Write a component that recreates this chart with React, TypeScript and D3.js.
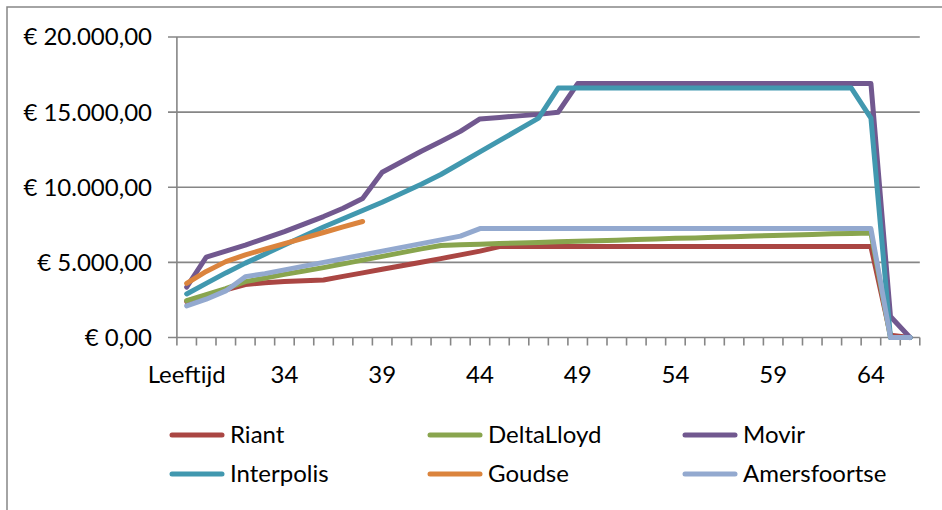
import React from "react";
import * as d3 from "d3";

const categories: string[] = ["Leeftijd", ...d3.range(30, 67).map(String)];
const tickLabels: string[] = ["Leeftijd", "34", "39", "44", "49", "54", "59", "64"];
const yTicks: number[] = [0, 5000, 10000, 15000, 20000];

const riant: (number | null)[] = [
  2400, 2780, 3170, 3520, 3650, 3720, 3780, 3830, 4070, 4300, 4540, 4780, 5010, 5250, 5500, 5750,
  6050, 6050, 6050, 6050, 6050, 6050, 6050, 6050, 6050, 6050, 6050, 6050, 6050, 6050, 6050, 6050, 6050, 6050, 6050, 6050,
  150, 0,
];
const deltaLloyd: (number | null)[] = [
  2450, 2850, 3250, 3720, 3950, 4200, 4420, 4650, 4900, 5150, 5400, 5650, 5900, 6120, 6170, 6210,
  6250, 6290, 6330, 6370, 6400, 6440, 6480, 6520, 6560, 6600, 6630, 6670, 6710, 6750, 6790, 6830, 6860, 6900, 6930, 6950,
  0, 0,
];
const movir: (number | null)[] = [
  3350, 5350, 5750, 6150, 6600, 7050, 7550, 8050, 8600, 9250, 11000, 11700, 12400, 13050, 13720, 14550,
  14650, 14750, 14850, 14990, 16900, 16900, 16900, 16900, 16900, 16900, 16900, 16900, 16900, 16900, 16900, 16900, 16900, 16900, 16900, 16900,
  1400, 0,
];
const interpolis: (number | null)[] = [
  2900, 3600, 4300, 4950, 5550, 6150, 6750, 7350, 7900, 8450, 9000, 9600, 10200, 10850, 11600, 12350,
  13100, 13850, 14600, 16600, 16600, 16600, 16600, 16600, 16600, 16600, 16600, 16600, 16600, 16600, 16600, 16600, 16600, 16600, 16600, 14600,
  0, 0,
];
const goudse: (number | null)[] = [
  3600, 4400, 5050, 5500, 5880, 6250, 6620, 6990, 7360, 7720,
  null, null, null, null, null, null, null, null, null, null, null, null, null, null, null, null, null, null, null, null, null, null, null, null, null, null, null, null,
];
const amersfoortse: (number | null)[] = [
  2100, 2550, 3100, 4050, 4250, 4500, 4750, 5000, 5250, 5500, 5750, 6000, 6250, 6500, 6750, 7250,
  7250, 7250, 7250, 7250, 7250, 7250, 7250, 7250, 7250, 7250, 7250, 7250, 7250, 7250, 7250, 7250, 7250, 7250, 7250, 7250,
  0, 0,
];

const seriesNames = ["Riant", "DeltaLloyd", "Movir", "Interpolis", "Goudse", "Amersfoortse"];
const seriesValues = [riant, deltaLloyd, movir, interpolis, goudse, amersfoortse];
const colors = ["#AA4643", "#89A54E", "#71588F", "#4198AF", "#DB843D", "#93A9CF"];

const W = 942;
const H = 510;
const FONT = "Lato, 'Open Sans', sans-serif";

function fmtEuro(v: number): string {
  const s = Math.round(v).toString().replace(/\B(?=(\d{3})+(?!\d))/g, ".");
  return `€ ${s},00`;
}

export default function App() {
  const x = d3.scaleBand<string>().domain(categories).range([176.9, 919.8]).padding(0);
  const cx = (c: string) => (x(c) as number) + x.bandwidth() / 2;
  const y = d3.scaleLinear().domain([0, 20000]).range([337.5, 37]);
  const axisColor = "#868686";

  const line = d3
    .line<number | null>()
    .defined((d) => d !== null)
    .x((_, i) => cx(categories[i]))
    .y((d) => y(d as number));

  const boundaries = [...categories.map((c) => x(c) as number), 919.8];

  const legendCols = [172, 430, 685];
  const legendRows = [435, 474];

  return (
    <svg
      width={W}
      height={H}
      style={{ position: "absolute", left: 0, top: 0, background: "#fff" }}
      fontFamily={FONT}
    >
      <rect x={0} y={0} width={W} height={H} fill="#fff" />
      <rect x={7} y={7} width={W + 20} height={H + 20} fill="none" stroke={axisColor} strokeWidth={1.5} />

      {/* gridlines */}
      {yTicks.map((t) => (
        <line key={"g" + t} x1={168} x2={919.8} y1={y(t)} y2={y(t)} stroke={axisColor} strokeWidth={1.6} />
      ))}
      {/* y axis */}
      <line x1={176.9} x2={176.9} y1={y(20000)} y2={y(0)} stroke={axisColor} strokeWidth={1.6} />
      {yTicks.map((t) => (
        <text key={"yl" + t} x={152} y={y(t)} dy="0.35em" textAnchor="end" fontSize={24} fill="#000">
          {fmtEuro(t)}
        </text>
      ))}
      {/* x ticks */}
      {boundaries.map((b, i) => (
        <line key={"xt" + i} x1={b} x2={b} y1={y(0)} y2={y(0) + 8} stroke={axisColor} strokeWidth={1.6} />
      ))}
      {categories.map((c) =>
        tickLabels.includes(c) ? (
          <text key={"xl" + c} x={cx(c)} y={383} textAnchor="middle" fontSize={24} fill="#000">
            {c}
          </text>
        ) : null
      )}

      {/* series */}
      {seriesValues.map((vals, k) => (
        <path
          key={seriesNames[k]}
          d={line(vals) || ""}
          fill="none"
          stroke={colors[k]}
          strokeWidth={5}
          strokeLinejoin="round"
          strokeLinecap="round"
        />
      ))}

      {/* legend */}
      {seriesNames.map((name, k) => {
        const lx = legendCols[k % 3];
        const ly = legendRows[Math.floor(k / 3)];
        return (
          <g key={"lg" + name}>
            <line x1={lx} x2={lx + 50} y1={ly} y2={ly} stroke={colors[k]} strokeWidth={5} strokeLinecap="round" />
            <text x={lx + 58} y={ly} dy="0.35em" fontSize={24} fill="#000">
              {name}
            </text>
          </g>
        );
      })}
    </svg>
  );
}
